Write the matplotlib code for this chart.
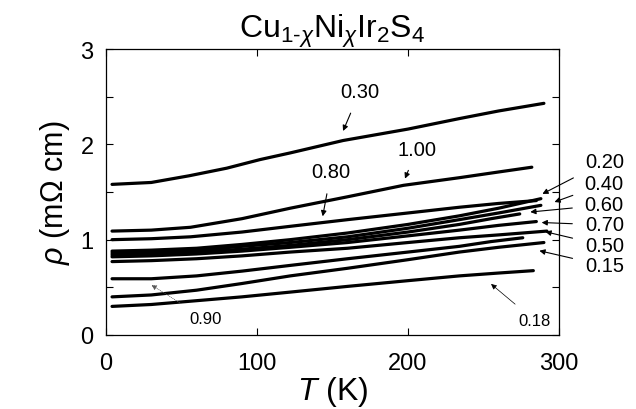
import matplotlib
matplotlib.use("Agg")
import matplotlib.pyplot as plt
from matplotlib.ticker import MultipleLocator

"""
Resistivity vs temperature for Cu(1-x)Ni(x)Ir2S4.
"""

labels = ["0.30", "1.00", "0.80", "0.20", "0.40", "0.60", "0.70", "0.50", "0.90", "0.15", "0.18"]

T_vals = [
    [4, 30, 55, 80, 102, 122, 157, 200, 234, 260, 290],
    [4, 30, 56, 90, 122, 160, 197, 234, 260, 282],
    [4, 30, 56, 90, 122, 160, 200, 234, 260, 285],
    [4, 30, 60, 90, 122, 160, 200, 234, 260, 288],
    [4, 30, 60, 90, 122, 160, 200, 234, 260, 288],
    [4, 30, 60, 90, 122, 160, 200, 234, 255, 274],
    [4, 30, 60, 90, 122, 160, 200, 234, 260, 285],
    [4, 30, 60, 90, 122, 160, 200, 234, 260, 292],
    [4, 30, 60, 90, 122, 160, 200, 234, 255, 276],
    [4, 30, 60, 90, 122, 160, 200, 234, 260, 290],
    [4, 30, 60, 90, 122, 160, 200, 234, 260, 283],
]

rho_vals = [
    [1.58, 1.60, 1.67, 1.75, 1.84, 1.91, 2.04, 2.16, 2.27, 2.35, 2.43],
    [1.09, 1.10, 1.13, 1.22, 1.33, 1.45, 1.57, 1.65, 1.71, 1.76],
    [1.00, 1.01, 1.03, 1.08, 1.14, 1.21, 1.28, 1.34, 1.38, 1.41],
    [0.88, 0.89, 0.91, 0.95, 1.00, 1.07, 1.16, 1.25, 1.33, 1.43],
    [0.86, 0.87, 0.89, 0.93, 0.97, 1.03, 1.12, 1.21, 1.28, 1.36],
    [0.84, 0.85, 0.87, 0.90, 0.94, 1.00, 1.08, 1.16, 1.22, 1.27],
    [0.82, 0.83, 0.85, 0.88, 0.92, 0.97, 1.04, 1.10, 1.15, 1.19],
    [0.77, 0.78, 0.80, 0.83, 0.87, 0.91, 0.97, 1.02, 1.05, 1.09],
    [0.59, 0.59, 0.62, 0.67, 0.73, 0.80, 0.87, 0.93, 0.98, 1.02],
    [0.40, 0.42, 0.47, 0.54, 0.62, 0.70, 0.79, 0.87, 0.92, 0.97],
    [0.30, 0.32, 0.36, 0.40, 0.45, 0.51, 0.57, 0.62, 0.65, 0.675],
]

# label text position and arrow tip (T, rho)
label_text = {
    "0.30": (168, 2.55), "1.00": (206, 1.95), "0.80": (149, 1.71),
    "0.20": (330, 1.815), "0.40": (330, 1.585), "0.60": (330, 1.364),
    "0.70": (330, 1.154), "0.50": (330, 0.937), "0.15": (330, 0.727),
    "0.18": (284, 0.15), "0.90": (66, 0.168),
}
label_tip = {
    "0.30": (157, 2.14), "1.00": (198, 1.64), "0.80": (143.5, 1.245),
    "0.20": (289, 1.48), "0.40": (297, 1.395), "0.60": (281, 1.29),
    "0.70": (288.5, 1.18), "0.50": (291, 1.083), "0.15": (287, 0.884),
    "0.18": (255, 0.535), "0.90": (30, 0.525),
}


def main():
    plt.rcParams["font.family"] = ["Liberation Sans", "DejaVu Sans"]
    plt.rcParams["mathtext.fontset"] = "custom"
    plt.rcParams["mathtext.rm"] = "Liberation Sans"
    plt.rcParams["mathtext.it"] = "Liberation Sans:italic"

    fig = plt.figure(figsize=(6.36, 4.10), dpi=100)
    ax = fig.add_axes([106 / 636, 74 / 410, 453 / 636, 286 / 410])

    for T, rho in zip(T_vals, rho_vals):
        ax.plot(T, rho, color="black", lw=2.3, solid_capstyle="round")

    for lab in labels:
        small = lab in ("0.18", "0.90")
        tx, ty = label_text[lab]
        ax.annotate(lab, xy=label_tip[lab], xytext=(tx, ty),
                    fontsize=12 if small else 14.5,
                    ha="center", va="center", annotation_clip=False,
                    arrowprops=dict(arrowstyle="-|>", lw=0.5 if small else 0.8,
                                    color="0.35" if lab == "0.90" else "black",
                                    linestyle=":" if lab == "0.90" else "-",
                                    mutation_scale=8, shrinkA=7, shrinkB=0))

    ax.set_xlim(0, 300)
    ax.set_ylim(0, 3)
    ax.xaxis.set_major_locator(MultipleLocator(100))
    ax.yaxis.set_major_locator(MultipleLocator(1))
    ax.yaxis.set_minor_locator(MultipleLocator(0.5))
    ax.tick_params(which="both", direction="in", top=True, right=True,
                   length=5, width=0.8)
    ax.tick_params(axis="x", labelsize=17, pad=12)
    ax.tick_params(axis="y", labelsize=17, pad=9)
    for s in ax.spines.values():
        s.set_linewidth(0.9)

    ax.set_xlabel(r"$T$ (K)", fontsize=23, labelpad=0)
    ax.set_ylabel(r"$\rho$ (m$\Omega$ cm)", fontsize=22, labelpad=6)
    ax.set_title(r"Cu$_{\mathregular{1\text{-}}\chi}$Ni$_{\chi}$Ir$_2$S$_4$",
                 fontsize=23, pad=6)

    fig.savefig("out.png", dpi=100)


if __name__ == "__main__":
    main()
